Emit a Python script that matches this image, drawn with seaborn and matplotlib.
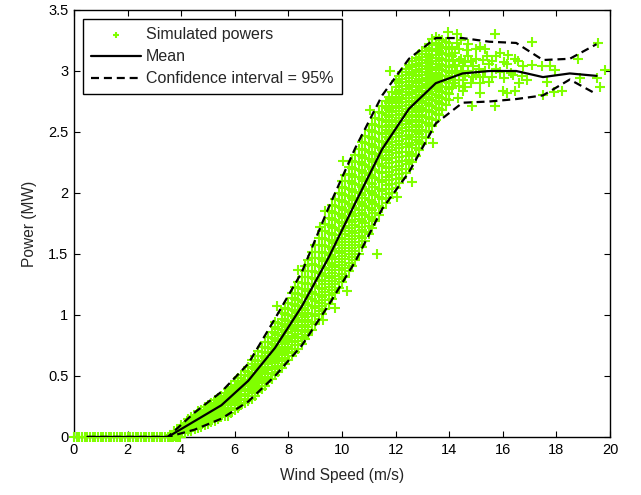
import pandas as pd
import seaborn as sns
import matplotlib.pyplot as plt

# wind speed bins and the statistics of the simulated powers
bin_speed = [0.5, 1.5, 2.5, 3.5, 4.5, 5.5, 6.5, 7.5, 8.5, 9.5,
             10.5, 11.5, 12.5, 13.5, 14.5, 15.5, 16.5, 17.5, 18.5, 19.5]
mean_power = [0, 0, 0, 0, 0.13, 0.26, 0.46, 0.73, 1.07, 1.47,
              1.92, 2.36, 2.69, 2.90, 2.98, 3.00, 3.00, 2.95, 2.98, 2.96]
upper_power = [0, 0, 0, 0, 0.20, 0.37, 0.60, 0.97, 1.35, 1.88,
               2.37, 2.80, 3.10, 3.27, 3.27, 3.24, 3.23, 3.09, 3.10, 3.22]
lower_power = [0, 0, 0, 0, 0.06, 0.15, 0.29, 0.50, 0.75, 1.08,
               1.44, 1.87, 2.17, 2.57, 2.74, 2.75, 2.77, 2.80, 2.93, 2.81]

# simulated powers below cut-in speed
zero_speed = [0.0, 0.1, 0.2, 0.3, 0.4, 0.5, 0.6, 0.7, 0.8, 0.9, 1.0, 1.1,
              1.2, 1.3, 1.4, 1.5, 1.6, 1.7, 1.8, 1.9, 2.0, 2.1, 2.2, 2.3,
              2.4, 2.5, 2.6, 2.7, 2.8, 2.9, 3.0, 3.1, 3.2, 3.3, 3.4, 3.5,
              3.6, 3.7, 3.8, 3.9, 3.95]

# simulated powers in the rising part, column by column
col_speed = [3.625, 3.75, 3.875, 4.0, 4.125, 4.25, 4.375, 4.5, 4.625, 4.75,
             4.875, 5.0, 5.125, 5.25, 5.375, 5.5, 5.625, 5.75, 5.875, 6.0,
             6.125, 6.25, 6.375, 6.5, 6.625, 6.75, 6.875, 7.0, 7.125, 7.25,
             7.375, 7.5, 7.625, 7.75, 7.875, 8.0, 8.125, 8.25, 8.375, 8.5,
             8.625, 8.75, 8.875, 9.0, 9.125, 9.25, 9.375, 9.5, 9.625, 9.75,
             9.875, 10.0, 10.125, 10.25, 10.375, 10.5, 10.625, 10.75, 10.875, 11.0,
             11.125, 11.25, 11.375, 11.5, 11.625, 11.75, 11.875, 12.0, 12.125, 12.25,
             12.375, 12.5, 12.625, 12.75, 12.875, 13.0, 13.125, 13.25, 13.375, 13.5,
             13.625, 13.75, 13.875, 14.0]
col_power = [
    [0.0, 0.01, 0.02],
    [0.01, 0.02, 0.035, 0.045],
    [0.02, 0.035, 0.05, 0.065],
    [0.03, 0.05, 0.065, 0.08, 0.095],
    [0.035, 0.055, 0.075, 0.095, 0.115],
    [0.045, 0.065, 0.085, 0.105, 0.125, 0.145],
    [0.05, 0.075, 0.095, 0.12, 0.14, 0.16],
    [0.065, 0.085, 0.11, 0.13, 0.155, 0.18],
    [0.07, 0.095, 0.12, 0.145, 0.165, 0.19, 0.21],
    [0.085, 0.11, 0.135, 0.16, 0.185, 0.205, 0.225],
    [0.095, 0.12, 0.15, 0.175, 0.2, 0.22, 0.245],
    [0.11, 0.135, 0.16, 0.19, 0.215, 0.24, 0.26],
    [0.12, 0.15, 0.175, 0.205, 0.23, 0.255, 0.28],
    [0.135, 0.165, 0.19, 0.22, 0.25, 0.275, 0.3],
    [0.145, 0.175, 0.205, 0.235, 0.265, 0.29, 0.32],
    [0.16, 0.19, 0.22, 0.25, 0.28, 0.31, 0.34],
    [0.175, 0.205, 0.24, 0.27, 0.3, 0.33, 0.36],
    [0.19, 0.225, 0.26, 0.29, 0.32, 0.355, 0.39],
    [0.2, 0.24, 0.275, 0.31, 0.345, 0.375, 0.41],
    [0.225, 0.26, 0.295, 0.33, 0.365, 0.4, 0.43, 0.46],
    [0.24, 0.275, 0.315, 0.35, 0.385, 0.42, 0.455, 0.485],
    [0.26, 0.3, 0.335, 0.375, 0.41, 0.445, 0.48, 0.51],
    [0.275, 0.315, 0.355, 0.395, 0.435, 0.47, 0.505, 0.54],
    [0.295, 0.335, 0.38, 0.42, 0.46, 0.5, 0.535, 0.57],
    [0.315, 0.36, 0.4, 0.445, 0.485, 0.525, 0.565, 0.6, 0.63],
    [0.34, 0.385, 0.43, 0.47, 0.515, 0.555, 0.595, 0.635, 0.665],
    [0.365, 0.41, 0.455, 0.5, 0.545, 0.585, 0.625, 0.665, 0.705],
    [0.395, 0.44, 0.485, 0.53, 0.575, 0.62, 0.66, 0.7, 0.74],
    [0.42, 0.465, 0.515, 0.56, 0.605, 0.65, 0.695, 0.735, 0.78],
    [0.45, 0.495, 0.545, 0.595, 0.64, 0.685, 0.73, 0.775, 0.82],
    [0.475, 0.525, 0.575, 0.625, 0.675, 0.72, 0.765, 0.81, 0.86],
    [0.505, 0.555, 0.605, 0.655, 0.705, 0.755, 0.8, 0.85, 0.9, 0.94],
    [0.535, 0.585, 0.64, 0.69, 0.74, 0.79, 0.84, 0.885, 0.935],
    [0.565, 0.62, 0.67, 0.725, 0.775, 0.825, 0.875, 0.925, 0.97, 1.02],
    [0.595, 0.65, 0.705, 0.76, 0.81, 0.86, 0.91, 0.96, 1.01, 1.06],
    [0.63, 0.685, 0.74, 0.795, 0.85, 0.9, 0.95, 1.0, 1.05, 1.1],
    [0.66, 0.72, 0.775, 0.83, 0.885, 0.94, 0.99, 1.04, 1.09, 1.14, 1.18],
    [0.695, 0.755, 0.81, 0.865, 0.92, 0.975, 1.03, 1.08, 1.13, 1.18, 1.23],
    [0.725, 0.785, 0.845, 0.9, 0.96, 1.015, 1.07, 1.12, 1.17, 1.22, 1.27],
    [0.76, 0.82, 0.88, 0.94, 1.0, 1.055, 1.11, 1.165, 1.215, 1.265, 1.31],
    [0.8, 0.86, 0.92, 0.98, 1.04, 1.1, 1.155, 1.21, 1.26, 1.31, 1.36, 1.4],
    [0.84, 0.9, 0.96, 1.02, 1.085, 1.145, 1.2, 1.255, 1.31, 1.36, 1.41, 1.45],
    [0.88, 0.945, 1.01, 1.07, 1.13, 1.19, 1.25, 1.305, 1.36, 1.415, 1.47, 1.52],
    [0.925, 0.99, 1.055, 1.115, 1.175, 1.235, 1.295, 1.355, 1.41, 1.465, 1.52, 1.57],
    [0.965, 1.03, 1.1, 1.165, 1.225, 1.285, 1.345, 1.405, 1.465, 1.52, 1.575, 1.63],
    [1.01, 1.075, 1.145, 1.21, 1.275, 1.335, 1.395, 1.455, 1.515, 1.575, 1.63, 1.69],
    [1.05, 1.12, 1.19, 1.255, 1.32, 1.385, 1.445, 1.505, 1.565, 1.625, 1.685, 1.745],
    [1.09, 1.16, 1.23, 1.3, 1.365, 1.43, 1.495, 1.555, 1.615, 1.675, 1.735, 1.795, 1.85],
    [1.135, 1.205, 1.275, 1.345, 1.41, 1.475, 1.54, 1.605, 1.665, 1.725, 1.785, 1.845, 1.9],
    [1.18, 1.25, 1.32, 1.39, 1.46, 1.525, 1.59, 1.655, 1.715, 1.775, 1.835, 1.895, 1.95],
    [1.22, 1.295, 1.365, 1.435, 1.505, 1.57, 1.635, 1.7, 1.765, 1.825, 1.885, 1.945, 2.0],
    [1.27, 1.34, 1.41, 1.48, 1.55, 1.62, 1.685, 1.75, 1.815, 1.875, 1.935, 1.995, 2.05, 2.1],
    [1.31, 1.385, 1.455, 1.525, 1.595, 1.665, 1.73, 1.795, 1.86, 1.925, 1.985, 2.045, 2.1, 2.15],
    [1.36, 1.43, 1.5, 1.575, 1.645, 1.715, 1.78, 1.845, 1.91, 1.975, 2.035, 2.095, 2.155, 2.21],
    [1.4, 1.475, 1.55, 1.62, 1.69, 1.76, 1.83, 1.895, 1.96, 2.025, 2.085, 2.145, 2.205, 2.26],
    [1.45, 1.525, 1.6, 1.67, 1.74, 1.81, 1.88, 1.945, 2.01, 2.075, 2.135, 2.195, 2.255, 2.31],
    [1.5, 1.575, 1.65, 1.72, 1.79, 1.86, 1.93, 2.0, 2.065, 2.13, 2.19, 2.25, 2.31, 2.36],
    [1.555, 1.63, 1.7, 1.77, 1.84, 1.91, 1.98, 2.05, 2.115, 2.18, 2.24, 2.3, 2.36, 2.415],
    [1.605, 1.68, 1.75, 1.82, 1.89, 1.96, 2.03, 2.1, 2.165, 2.23, 2.29, 2.35, 2.41, 2.465],
    [1.66, 1.73, 1.805, 1.875, 1.945, 2.015, 2.085, 2.15, 2.215, 2.28, 2.34, 2.4, 2.46, 2.515],
    [1.71, 1.785, 1.86, 1.93, 2.0, 2.07, 2.135, 2.2, 2.265, 2.33, 2.39, 2.45, 2.51, 2.565],
    [1.77, 1.84, 1.91, 1.98, 2.05, 2.12, 2.19, 2.255, 2.32, 2.38, 2.44, 2.5, 2.56, 2.615],
    [1.82, 1.895, 1.965, 2.035, 2.105, 2.175, 2.24, 2.305, 2.37, 2.43, 2.49, 2.55, 2.61, 2.665],
    [1.88, 1.95, 2.02, 2.09, 2.16, 2.225, 2.29, 2.355, 2.42, 2.48, 2.54, 2.6, 2.655, 2.71],
    [1.92, 1.995, 2.065, 2.135, 2.205, 2.27, 2.335, 2.4, 2.46, 2.52, 2.58, 2.64, 2.695, 2.75],
    [1.96, 2.035, 2.105, 2.175, 2.245, 2.31, 2.375, 2.44, 2.5, 2.56, 2.62, 2.68, 2.735, 2.79],
    [2.0, 2.075, 2.145, 2.215, 2.285, 2.35, 2.415, 2.48, 2.54, 2.6, 2.66, 2.715, 2.77, 2.825],
    [2.04, 2.115, 2.185, 2.255, 2.325, 2.39, 2.455, 2.52, 2.58, 2.64, 2.7, 2.755, 2.81, 2.865, 2.92],
    [2.08, 2.155, 2.225, 2.295, 2.365, 2.43, 2.495, 2.555, 2.615, 2.675, 2.735, 2.79, 2.845, 2.9, 2.955],
    [2.12, 2.195, 2.265, 2.335, 2.4, 2.465, 2.53, 2.59, 2.65, 2.71, 2.77, 2.825, 2.88, 2.935, 2.99],
    [2.16, 2.235, 2.305, 2.375, 2.44, 2.505, 2.565, 2.625, 2.685, 2.745, 2.8, 2.855, 2.91, 2.965, 3.02],
    [2.2, 2.27, 2.34, 2.41, 2.475, 2.54, 2.6, 2.66, 2.72, 2.775, 2.83, 2.885, 2.94, 2.995, 3.05],
    [2.25, 2.32, 2.39, 2.455, 2.52, 2.58, 2.64, 2.7, 2.755, 2.81, 2.865, 2.92, 2.975, 3.03, 3.08],
    [2.3, 2.37, 2.435, 2.5, 2.56, 2.62, 2.68, 2.735, 2.79, 2.845, 2.9, 2.955, 3.01, 3.06, 3.11],
    [2.35, 2.415, 2.48, 2.54, 2.6, 2.66, 2.715, 2.77, 2.825, 2.88, 2.935, 2.99, 3.04, 3.09, 3.14],
    [2.4, 2.46, 2.52, 2.58, 2.64, 2.695, 2.75, 2.805, 2.86, 2.915, 2.965, 3.015, 3.065, 3.115, 3.165],
    [2.45, 2.51, 2.57, 2.625, 2.68, 2.735, 2.79, 2.84, 2.89, 2.94, 2.99, 3.04, 3.09, 3.14, 3.19],
    [2.5, 2.56, 2.615, 2.67, 2.72, 2.775, 2.825, 2.875, 2.925, 2.975, 3.025, 3.075, 3.125, 3.175, 3.225],
    [2.55, 2.605, 2.66, 2.71, 2.76, 2.81, 2.86, 2.91, 2.96, 3.01, 3.06, 3.11, 3.16, 3.21, 3.26],
    [2.6, 2.65, 2.7, 2.75, 2.8, 2.85, 2.895, 2.94, 2.985, 3.03, 3.08, 3.13, 3.18, 3.23, 3.28],
    [2.64, 2.69, 2.74, 2.79, 2.835, 2.88, 2.925, 2.97, 3.015, 3.06, 3.11, 3.16, 3.21, 3.26],
    [2.68, 2.73, 2.78, 2.825, 2.87, 2.915, 2.96, 3.005, 3.05, 3.1, 3.15, 3.2, 3.25],
    [2.72, 2.77, 2.82, 2.865, 2.91, 2.955, 3.0, 3.045, 3.09, 3.14, 3.19, 3.24],
    [2.76, 2.81, 2.855, 2.9, 2.945, 2.99, 3.035, 3.08, 3.13, 3.18, 3.23],
]

# stray simulated powers outside the dense band
stray_speed = [5.75, 7.56, 8.37, 9.18, 9.3, 9.37, 9.74, 10.05, 10.17, 11.04,
               11.3, 11.8, 12.04, 12.6, 13.4]
stray_power = [0.17, 1.07, 1.37, 1.72, 0.96, 1.85, 1.06, 2.26, 1.2, 2.68,
               1.5, 3.0, 1.97, 2.09, 2.41]

# simulated powers above rated speed
rated_speed = [13.96, 14.28, 15.7, 17.08, 15.15, 16.2, 16.46, 17.08, 17.45, 17.76,
               17.95, 18.88, 19.5, 19.8, 19.55, 18.8, 18.2, 17.9, 17.5, 16.46,
               16.15, 15.7, 14.84, 14.33, 19.63, 17.64, 16.89, 16.4, 15.9, 15.5,
               15.9, 15.4, 14.65, 14.9, 14.5, 15.15, 15.5, 14.5, 14.9, 16.0,
               16.6, 16.75, 16.15, 14.28, 14.5, 14.15, 14.15, 15.15, 14.28,
               14.1, 14.1, 14.1, 14.1, 14.2, 14.2, 14.2, 14.35, 14.35, 14.35,
               14.35, 14.45, 14.45, 14.45, 14.6, 14.6, 14.6, 14.7, 14.7, 14.7,
               14.8, 14.8, 15.0, 15.0, 15.0, 15.1, 15.25, 15.25, 15.35, 15.35,
               15.6, 15.6, 15.75, 15.75, 16.05, 16.05, 16.3, 16.55, 16.7]
rated_power = [3.32, 3.3, 3.3, 3.24, 3.2, 3.13, 3.1, 3.05, 3.04, 3.04,
               3.01, 2.94, 2.94, 3.01, 3.23, 3.1, 2.84, 2.83, 2.8, 2.84,
               2.82, 2.71, 2.71, 2.78, 2.87, 2.91, 2.93, 2.97, 2.99, 3.06,
               3.15, 3.12, 3.17, 3.04, 2.93, 2.9, 2.91, 2.84, 2.95, 2.84,
               2.9, 3.04, 3.06, 3.23, 3.04, 3.09, 2.9, 2.82, 3.0,
               2.86, 2.98, 3.12, 3.2, 2.93, 3.05, 3.15, 2.88, 2.97, 3.08,
               3.18, 2.99, 3.1, 3.25, 2.87, 2.96, 3.07, 3.0, 3.12, 3.22,
               2.9, 3.08, 2.97, 3.1, 3.18, 3.02, 2.95, 3.09, 3.0, 3.18,
               2.95, 3.08, 3.02, 3.12, 2.94, 3.07, 2.98, 3.08, 2.96]

assert len(col_speed) == len(col_power)

sim_speed = list(zero_speed)
sim_power = [0.0] * len(zero_speed)
for s, col in zip(col_speed, col_power):
    sim_speed += [s] * len(col)
    sim_power += col
sim_speed += stray_speed + rated_speed
sim_power += stray_power + rated_power

sim = pd.DataFrame({"speed": sim_speed, "power": sim_power})
stats = pd.DataFrame({"speed": bin_speed, "mean": mean_power,
                      "upper": upper_power, "lower": lower_power})

sns.set_theme(style="ticks")
plt.rcParams["font.family"] = ["Liberation Sans", "DejaVu Sans"]
plt.rcParams["xtick.direction"] = "in"
plt.rcParams["ytick.direction"] = "in"

fig = plt.figure(figsize=(6.41, 4.95), dpi=100)
ax = fig.add_axes([0.1154, 0.1172, 0.8362, 0.8626])

green = "#80ff00"
sns.scatterplot(data=sim, x="speed", y="power", marker="+", s=44,
                color=green, linewidth=1.5, ax=ax, label="Simulated powers",
                zorder=2.6, clip_on=False)
sns.lineplot(data=stats, x="speed", y="mean", color="black", linewidth=1.6,
             ax=ax, label="Mean", zorder=3)
sns.lineplot(data=stats, x="speed", y="upper", color="black", linewidth=1.6,
             linestyle="--", ax=ax, label="Confidence interval = 95%", zorder=3)
sns.lineplot(data=stats, x="speed", y="lower", color="black", linewidth=1.6,
             linestyle="--", ax=ax, zorder=3)
for line in ax.lines:
    if line.get_linestyle() == "--":
        line.set_dashes((3.6, 2.2))

ax.set_xlim(0, 20)
ax.set_ylim(0, 3.5)
ax.set_xticks(range(0, 21, 2))
ax.set_yticks([0, 0.5, 1, 1.5, 2, 2.5, 3, 3.5])
ax.set_yticklabels(["0", "0.5", "1", "1.5", "2", "2.5", "3", "3.5"])
ax.tick_params(labelsize=10.5, length=4, width=0.8, top=True, right=True,
               colors="black", pad=4)
for sp in ax.spines.values():
    sp.set_visible(True)
    sp.set_linewidth(1.0)
    sp.set_color("black")
ax.set_xlabel("Wind Speed (m/s)", fontsize=11.2, labelpad=8)
ax.set_ylabel("Power (MW)", fontsize=11.2, labelpad=8)

leg = ax.legend(loc="upper left", bbox_to_anchor=(0.017, 0.979), fontsize=11.5,
                handlelength=3.1, frameon=True, fancybox=False, borderpad=0.5,
                labelspacing=0.45, handletextpad=0.35, borderaxespad=0,
                markerscale=0.6)
leg.get_frame().set_edgecolor("black")
leg.get_frame().set_linewidth(1.0)
leg.get_frame().set_alpha(1)
leg.set_zorder(5)

fig.savefig("out.png", dpi=100)
